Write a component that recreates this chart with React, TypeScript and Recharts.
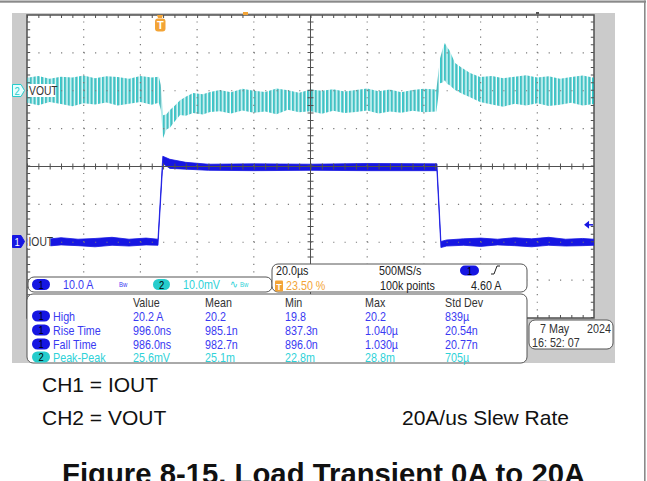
import React from "react";
import {
  Area,
  ComposedChart,
  ReferenceArea,
  ReferenceDot,
  ReferenceLine,
  XAxis,
  YAxis,
} from "recharts";

// screen: 10 div x 20 us, 8 div vertical
const timeTicks = [0, 20, 40, 60, 80, 100, 120, 140, 160, 180, 200];
const divTicks = [-4, -3, -2, -1, 0, 1, 2, 3, 4];

// CH1 IOUT envelope in A (10 A/div, zero 2 div below centre)
const ch1Time = [0, 6, 12, 18, 24, 30, 36, 42, 46.2, 47.9, 50.4, 56, 64, 80, 100, 120, 144.6, 146.0, 148, 154, 160, 166, 172, 178, 184, 190, 196, 200];
const ch1Low = [-0.8, -1.1, -0.7, -0.9, -1.2, -0.8, -1.0, -0.7, -0.8, 20.8, 19.5, 19.3, 19.0, 18.9, 19.0, 18.9, 18.9, -1.4, -1.0, -0.8, -1.1, -0.7, -0.9, -1.2, -0.8, -1.0, -0.9, -0.8];
const ch1High = [0.9, 0.7, 1.2, 0.8, 1.0, 1.3, 0.8, 1.1, 0.8, 22.7, 21.9, 21.1, 20.6, 20.7, 20.6, 20.8, 20.7, 0.2, 0.6, 0.9, 1.1, 0.8, 1.2, 0.9, 1.3, 0.8, 1.0, 0.8];

// CH2 VOUT envelope in mV (10 mV/div, zero 2 div above centre)
const ch2Time = [
  0, 4, 8, 12, 16, 20, 24, 28, 32, 36, 40, 44, 46.5, 47.2, 48.0, 49.2, 50.4, 52, 54, 56, 58.6, 62, 64.6,
  68, 72, 76, 80, 84, 88, 92, 96, 100, 104, 108, 112, 116, 120, 124, 128, 132, 136, 140,
  144.4, 145.7, 146.6, 147.4, 148.2, 149.0, 151.0, 153.5, 156.3, 159.8,
  164, 168, 172, 176, 180, 184, 188, 192, 196, 200,
];
const ch2Low = [
  -3.2, -3.8, -3.0, -3.5, -4.1, -3.3, -3.6, -3.1, -3.9, -3.4, -3.0, -3.7, -3.2, -5.0, -12.5, -10.2, -9.8, -8.2, -6.4, -6.6, -5.9, -6.3, -5.6,
  -5.4, -6.0, -5.2, -5.8, -5.5, -6.2, -5.0, -5.7, -5.4, -6.1, -5.3, -5.9, -5.6, -5.2, -6.0, -5.5, -5.8, -5.3, -5.7,
  -5.5, 2.0, 2.2, 2.8, 1.8, 1.5, 0.2, -0.8, -1.7, -3.0,
  -3.6, -4.2, -3.4, -3.9, -3.3, -4.0, -3.7, -3.2, -3.9, -3.5,
];
const ch2High = [
  3.4, 3.9, 3.2, 3.7, 3.5, 4.0, 3.3, 3.8, 3.6, 3.2, 3.9, 3.5, 3.7, 1.5, -6.5, -6.2, -5.1, -4.0, -2.5, -1.6, -0.6, -0.9, -0.3,
  0.2, -0.4, 0.5, 0.0, -0.3, 0.6, 0.1, -0.5, 0.3, 0.0, 0.4, -0.2, 0.2, 0.6, -0.1, 0.3, -0.4, 0.2, 0.5,
  0.3, 8.6, 11.0, 12.6, 11.5, 10.7, 7.3, 6.0, 4.7, 3.6,
  3.9, 3.3, 3.7, 4.1, 3.5, 3.8, 3.2, 3.6, 4.0, 3.4,
];

const trigLevelA = 4.6;

const measHeaders = ["Value", "Mean", "Min", "Max", "Std Dev"];
const measChannels = [1, 1, 1, 2];
const measNames = ["High", "Rise Time", "Fall Time", "Peak-Peak"];
const measValues = [
  ["20.2 A", "20.2", "19.8", "20.2", "839µ"],
  ["996.0ns", "985.1n", "837.3n", "1.040µ", "20.54n"],
  ["986.0ns", "982.7n", "896.0n", "1.030µ", "20.77n"],
  ["25.6mV", "25.1m", "22.8m", "28.8m", "705µ"],
];

const ch1Rows = ch1Time.map((t, i) => ({ t, band: [ch1Low[i] / 10 - 2, ch1High[i] / 10 - 2] }));
const ch2Rows = ch2Time.map((t, i) => ({ t, band: [2 + ch2Low[i] / 10, 2 + ch2High[i] / 10] }));

const BLUE = "#1616e2";
const BLUE_TXT = "#3a3af2";
const CYAN = "#26cccc";
const CYAN_TXT = "#2fd2d8";
const ORANGE = "#f3a436";
const GRID = "#7a7a7a";
const AXIS = "#505050";
const ARIAL = "'Liberation Sans', Arial, sans-serif";

const colX = [133, 205, 285, 365, 445];
const rowY = [316, 330, 344, 357];

// squeezed scope-style text
function ST({ x, y, fill = "#222", size = 12, anchor = "start", children }: any) {
  return (
    <text
      transform={`translate(${x} ${y}) scale(0.86 1)`}
      fontSize={size}
      fontFamily={ARIAL}
      fill={fill}
      textAnchor={anchor}
    >
      {children}
    </text>
  );
}

function Pill({ x, y, w, h, fill, label, color }: any) {
  return (
    <g>
      <rect x={x} y={y} width={w} height={h} rx={h / 2} fill={fill} />
      <ST x={x + w / 2} y={y + h / 2 + 4} size={11} fill={color} anchor="middle">
        {label}
      </ST>
    </g>
  );
}

function TrigArrow(props: any) {
  const { cx, cy } = props;
  return (
    <g>
      <path d={`M${cx - 4},${cy} L${cx + 1},${cy - 4} L${cx + 1},${cy + 4} Z`} fill={BLUE} />
      <line x1={cx} y1={cy} x2={cx + 5} y2={cy} stroke={BLUE} strokeWidth={1.5} />
    </g>
  );
}

export default function App() {
  return (
    <div style={{ position: "absolute", left: 0, top: 0, width: 647, height: 481, background: "#fff", overflow: "hidden" }}>
      <svg width={647} height={481} style={{ position: "absolute", left: 0, top: 0 }}>
        <defs>
          <pattern id="ripple" patternUnits="userSpaceOnUse" width="3.8" height="8">
            <rect x="0" y="0" width="1.4" height="8" fill="#2fd0d0" />
            <rect x="1.4" y="0" width="0.9" height="8" fill="#16868e" />
            <rect x="2.3" y="0" width="0.6" height="8" fill="#7fe6e6" />
          </pattern>
        </defs>
        <rect x={12} y={13} width={603} height={350} fill="#cbcbcb" />
        <rect x={27} y={15} width={567} height={303} fill="#fff" />
      </svg>

      <div style={{ position: "absolute", left: 22, top: 10 }}>
        <ComposedChart width={577} height={313} margin={{ top: 5, right: 5, bottom: 5, left: 5 }}>
          <XAxis type="number" dataKey="t" domain={[0, 200]} ticks={timeTicks} hide allowDataOverflow />
          <YAxis type="number" domain={[-4, 4]} ticks={divTicks} hide allowDataOverflow />
          {timeTicks
            .filter((t) => t !== 0 && t !== 100 && t !== 200)
            .map((t) => (
              <ReferenceLine key={`vx${t}`} x={t} stroke={GRID} strokeWidth={1.2} strokeDasharray="1.2 6.375" />
            ))}
          {divTicks
            .filter((d) => d !== 0 && d !== -4 && d !== 4)
            .map((d) => (
              <ReferenceLine key={`hy${d}`} y={d} stroke={GRID} strokeWidth={1.2} strokeDasharray="1.2 10.14" />
            ))}
          <ReferenceLine x={100} stroke={AXIS} strokeWidth={1} />
          <ReferenceLine y={0} stroke={AXIS} strokeWidth={1} />
          <ReferenceLine x={100.01} stroke={AXIS} strokeWidth={6} strokeDasharray="1 6.575" />
          <ReferenceLine y={0.001} stroke={AXIS} strokeWidth={6} strokeDasharray="1 10.34" />
          <ReferenceLine x={0.6} stroke={AXIS} strokeWidth={3} strokeDasharray="1 6.575" />
          <ReferenceLine x={199.4} stroke={AXIS} strokeWidth={3} strokeDasharray="1 6.575" />
          <ReferenceLine y={3.96} stroke={AXIS} strokeWidth={3} strokeDasharray="1 10.34" />
          <ReferenceLine y={-3.96} stroke={AXIS} strokeWidth={3} strokeDasharray="1 10.34" />
          <ReferenceArea x1={0} x2={200} y1={-4} y2={4} fill="none" stroke={AXIS} strokeWidth={1.5} />
          <Area
            data={ch2Rows}
            dataKey="band"
            type="linear"
            stroke="none"
            fill="url(#ripple)"
            fillOpacity={1}
            isAnimationActive={false}
            dot={false}
            activeDot={false}
          />
          <Area
            data={ch1Rows}
            dataKey="band"
            type="linear"
            stroke={BLUE}
            strokeWidth={0.8}
            fill={BLUE}
            fillOpacity={1}
            isAnimationActive={false}
            dot={false}
            activeDot={false}
          />
          <ReferenceDot x={197.9} y={trigLevelA / 10 - 2} r={0} shape={TrigArrow} />
        </ComposedChart>
      </div>

      <svg width={647} height={481} style={{ position: "absolute", left: 0, top: 0, pointerEvents: "none" }}>
        {/* page frame */}
        <rect x={0} y={0.5} width={646} height={2.2} fill="#8a8a8a" />
        <rect x={644} y={0.5} width={1.6} height={481} fill="#8a8a8a" />

        {/* trigger position marker */}
        <rect x={243} y={12} width={5} height={3} fill={ORANGE} />
        <rect x={536} y={12} width={3} height={2} fill="#555" />
        <path d="M157,15 L163,15 L162,18 L158,18 Z" fill={ORANGE} />
        <rect x={155} y={18.5} width={10.5} height={13} rx={3} fill={ORANGE} />
        <text x={160.3} y={29} textAnchor="middle" fontSize={11} fontWeight="bold" fontFamily={ARIAL} fill="#fff">T</text>

        {/* channel markers */}
        <polygon points="12.5,84.5 21,84.5 24.5,90.5 21,96.5 12.5,96.5" fill="#e6ffff" stroke={CYAN} strokeWidth={1} />
        <ST x={17} y={94.5} size={11} fill={CYAN} anchor="middle">2</ST>
        <rect x={28} y={84} width={27} height={13} fill="#fff" />
        <ST x={29} y={95} size={12} fill="#333">VOUT</ST>

        <polygon points="12.5,235.5 21,235.5 24.5,241.5 21,247.5 12.5,247.5" fill={BLUE} stroke={BLUE} strokeWidth={1} />
        <ST x={17} y={245.5} size={11} fill="#fff" anchor="middle">1</ST>
        <rect x={27.5} y={235} width={23} height={13} fill="#fff" />
        <ST x={28.5} y={246} size={12} fill="#333">IOUT</ST>

        {/* channel settings bar */}
        <rect x={28} y={277} width={244} height={15} rx={6} fill="#fff" stroke="#555" />
        <Pill x={32} y={279} w={18} h={11} fill={BLUE} label="1" color="#000" />
        <ST x={63} y={288.5} size={12.5} fill={BLUE_TXT}>10.0 A</ST>
        <ST x={119} y={287} size={7} fill={BLUE_TXT}>Bw</ST>
        <Pill x={153} y={279} w={17} h={11} fill={CYAN} label="2" color="#000" />
        <ST x={183} y={288.5} size={12.5} fill={CYAN_TXT}>10.0mV</ST>
        <ST x={230} y={288} size={11} fill={CYAN_TXT}>∿</ST>
        <ST x={240} y={287} size={7} fill={CYAN_TXT}>Bw</ST>

        {/* timebase box */}
        <rect x={272} y={264} width={255} height={28} rx={6} fill="#fff" stroke="#555" />
        <ST x={276} y={275} size={12.5}>20.0µs</ST>
        <rect x={275} y={280.5} width={8} height={11} rx={1} fill={ORANGE} />
        <text x={279} y={289.5} textAnchor="middle" fontSize={9} fontWeight="bold" fontFamily={ARIAL} fill="#fff">T</text>
        <ST x={286} y={290} size={12.5} fill={ORANGE}>23.50 %</ST>
        <ST x={379} y={275} size={12.5}>500MS/s</ST>
        <ST x={380} y={290} size={12.5}>100k points</ST>
        <Pill x={460} y={265.5} w={19} h={10} fill={BLUE} label="1" color="#000" />
        <path d="M491,274 L494,274 L497,266 L500,266" fill="none" stroke="#222" strokeWidth={1} />
        <ST x={471} y={290} size={12.5}>4.60 A</ST>

        {/* measurement table */}
        <rect x={27} y={294} width={500} height={69} rx={6} fill="#fff" stroke="#555" />
        {measHeaders.map((h, i) => (
          <ST key={h} x={colX[i]} y={306.5} size={12.5} fill="#333">{h}</ST>
        ))}
        {measNames.map((name, r) => {
          const ch = measChannels[r];
          const color = ch === 1 ? BLUE_TXT : CYAN_TXT;
          return (
            <g key={name}>
              <Pill x={32} y={rowY[r] - 5.5} w={18} h={11} fill={ch === 1 ? BLUE : CYAN} label={String(ch)} color="#000" />
              <ST x={53} y={rowY[r] + 4.5} size={12.5} fill={color}>{name}</ST>
              {measValues[r].map((v, c) => (
                <ST key={c} x={colX[c]} y={rowY[r] + 4.5} size={12.5} fill={color}>{v}</ST>
              ))}
            </g>
          );
        })}

        {/* date box */}
        <rect x={529} y={320} width={84} height={29} rx={6} fill="#fff" stroke="#555" />
        <ST x={540} y={332.5} size={12.5} fill="#333">7 May</ST>
        <ST x={587} y={332.5} size={12.5} fill="#333">2024</ST>
        <ST x={532} y={346.5} size={12.5} fill="#333">16: 52: 07</ST>

        {/* figure notes */}
        <text x={42} y={392} fontSize={21} fontFamily={ARIAL} fill="#111">CH1 = IOUT</text>
        <text x={42} y={425} fontSize={21} fontFamily={ARIAL} fill="#111">CH2 = VOUT</text>
        <text x={402} y={425} fontSize={21} fontFamily={ARIAL} fill="#111">20A/us Slew Rate</text>
        <text x={62} y={484} fontSize={29.3} fontWeight="bold" fontFamily={ARIAL} fill="#111">Figure 8-15. Load Transient 0A to 20A</text>
      </svg>
    </div>
  );
}
